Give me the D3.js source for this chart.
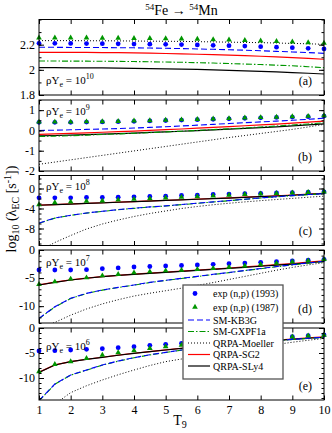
<!DOCTYPE html>
<html>
<head>
<meta charset="utf-8">
<script src="https://cdn.jsdelivr.net/npm/d3@7"></script>
<style>
  body { margin: 0; background: #fff; }
  text { font-family: "Liberation Serif", "Times New Roman", serif; }
</style>
</head>
<body>
<div id="chart"></div>
<script>
var svgWidth = 332;
var svgHeight = 433;
var xLeft = 39;
var xRight = 324;

// temperature grid (T9)
var temps = [1, 1.5, 2, 2.5, 3, 3.5, 4, 4.5, 5, 5.5, 6, 6.5, 7, 7.5, 8, 8.5, 9, 9.5, 10];
var xTicks = [1, 2, 3, 4, 5, 6, 7, 8, 9, 10];

// (a) rho Ye = 10^10
var exp1993A = [2.211, 2.211, 2.210, 2.209, 2.208, 2.207, 2.205, 2.204, 2.203, 2.201, 2.198, 2.195, 2.192, 2.189, 2.184, 2.180, 2.176, 2.171, 2.166];
var exp1987A = [2.255, 2.255, 2.255, 2.254, 2.253, 2.252, 2.251, 2.250, 2.248, 2.246, 2.244, 2.241, 2.238, 2.235, 2.231, 2.227, 2.222, 2.217, 2.212];
var kb3gA = [2.179, 2.179, 2.178, 2.178, 2.177, 2.176, 2.175, 2.173, 2.171, 2.169, 2.166, 2.163, 2.160, 2.156, 2.152, 2.147, 2.142, 2.137, 2.131];
var gxpf1aA = [2.070, 2.070, 2.069, 2.069, 2.068, 2.067, 2.066, 2.064, 2.062, 2.060, 2.057, 2.054, 2.050, 2.046, 2.042, 2.037, 2.032, 2.025, 2.017];
var moellerA = [2.232, 2.232, 2.232, 2.231, 2.231, 2.230, 2.229, 2.228, 2.227, 2.226, 2.224, 2.222, 2.220, 2.218, 2.216, 2.213, 2.210, 2.207, 2.203];
var sg2A = [2.139, 2.139, 2.138, 2.138, 2.137, 2.136, 2.134, 2.132, 2.130, 2.127, 2.124, 2.121, 2.117, 2.113, 2.108, 2.103, 2.097, 2.091, 2.084];
var sly4A = [2.017, 2.017, 2.016, 2.016, 2.015, 2.014, 2.012, 2.010, 2.008, 2.006, 2.003, 2.000, 1.996, 1.992, 1.988, 1.983, 1.978, 1.973, 1.967];

// (b) rho Ye = 10^9
var exp1993B = [0.40, 0.40, 0.40, 0.41, 0.42, 0.43, 0.45, 0.47, 0.49, 0.51, 0.53, 0.55, 0.57, 0.60, 0.62, 0.64, 0.66, 0.68, 0.71];
var exp1987B = [0.42, 0.42, 0.42, 0.43, 0.44, 0.45, 0.47, 0.49, 0.51, 0.53, 0.55, 0.57, 0.59, 0.62, 0.64, 0.66, 0.68, 0.70, 0.73];
var kb3gB = [0.00, 0.01, 0.03, 0.05, 0.07, 0.09, 0.12, 0.15, 0.18, 0.22, 0.26, 0.30, 0.34, 0.38, 0.42, 0.46, 0.50, 0.55, 0.60];
var gxpf1aB = [-0.30, -0.28, -0.26, -0.23, -0.20, -0.17, -0.14, -0.11, -0.07, -0.04, 0.00, 0.04, 0.08, 0.12, 0.17, 0.22, 0.27, 0.32, 0.38];
var moellerB = [-1.67, -1.56, -1.45, -1.34, -1.23, -1.12, -1.01, -0.90, -0.79, -0.68, -0.57, -0.46, -0.35, -0.25, -0.15, -0.05, 0.05, 0.17, 0.30];
var sg2B = [-0.19, -0.17, -0.15, -0.12, -0.09, -0.06, -0.03, 0.00, 0.04, 0.07, 0.11, 0.15, 0.19, 0.23, 0.27, 0.31, 0.36, 0.41, 0.46];
var sly4B = [-0.27, -0.25, -0.23, -0.21, -0.18, -0.16, -0.13, -0.10, -0.07, -0.04, -0.01, 0.03, 0.06, 0.10, 0.14, 0.18, 0.22, 0.27, 0.32];

// (c) rho Ye = 10^8
var exp1993C = [-1.87, -1.87, -1.87, -1.80, -1.80, -1.73, -1.67, -1.60, -1.53, -1.40, -1.33, -1.20, -1.12, -1.04, -0.97, -0.89, -0.81, -0.74, -0.66];
var exp1987C = [-3.21, -2.81, -2.68, -2.54, -2.47, -2.27, -2.14, -2.00, -1.87, -1.73, -1.60, -1.47, -1.30, -1.18, -1.06, -0.95, -0.85, -0.76, -0.68];
var kb3gC = [-6.91, -5.90, -5.36, -4.89, -4.56, -4.22, -3.95, -3.68, -3.48, -3.21, -2.94, -2.68, -2.42, -2.15, -1.88, -1.64, -1.42, -1.21, -1.02];
var gxpf1aC = [-6.95, -5.93, -5.38, -4.92, -4.58, -4.24, -3.97, -3.70, -3.50, -3.23, -2.96, -2.70, -2.44, -2.17, -1.90, -1.66, -1.44, -1.23, -1.04];
var moellerC = [-12.5, -10.8, -9.4, -8.1, -7.1, -6.3, -5.6, -5.0, -4.5, -4.0, -3.6, -3.25, -2.95, -2.68, -2.43, -2.2, -1.98, -1.75, -1.53];
var sg2C = [-3.33, -3.21, -3.09, -2.97, -2.85, -2.73, -2.61, -2.49, -2.37, -2.25, -2.12, -2.00, -1.87, -1.74, -1.60, -1.45, -1.30, -1.13, -0.95];
var sly4C = [-3.35, -3.23, -3.11, -2.99, -2.87, -2.75, -2.63, -2.51, -2.39, -2.27, -2.15, -2.03, -1.91, -1.78, -1.64, -1.50, -1.35, -1.18, -1.00];

// (d) rho Ye = 10^7
var exp1993D = [-3.56, -3.56, -3.56, -3.50, -3.32, -3.20, -3.03, -2.94, -2.85, -2.76, -2.67, -2.55, -2.43, -2.32, -2.20, -2.08, -1.96, -1.81, -1.66];
var exp1987D = [-6.11, -5.64, -5.16, -4.93, -4.57, -4.33, -4.04, -3.86, -3.68, -3.56, -3.44, -3.26, -3.05, -2.82, -2.55, -2.35, -2.12, -1.90, -1.68];
var kb3gD = [-12.17, -10.1, -8.6, -7.72, -7.12, -6.65, -6.23, -5.76, -5.40, -5.05, -4.69, -4.33, -4.00, -3.65, -3.30, -2.95, -2.62, -2.30, -2.00];
var gxpf1aD = [-12.22, -10.15, -8.64, -7.75, -7.15, -6.68, -6.26, -5.79, -5.43, -5.08, -4.72, -4.36, -4.03, -3.68, -3.33, -2.98, -2.65, -2.33, -2.03];
var moellerD = [-14.0, -12.9, -11.6, -10.5, -9.6, -8.85, -8.2, -7.7, -7.25, -6.8, -6.3, -5.8, -5.25, -4.7, -4.15, -3.6, -3.1, -2.65, -2.25];
var sg2D = [-6.21, -5.73, -5.32, -5.01, -4.73, -4.51, -4.31, -4.13, -3.95, -3.77, -3.58, -3.40, -3.21, -3.01, -2.81, -2.61, -2.40, -2.17, -1.93];
var sly4D = [-6.23, -5.75, -5.34, -5.03, -4.75, -4.53, -4.33, -4.15, -3.98, -3.80, -3.62, -3.45, -3.27, -3.08, -2.89, -2.70, -2.50, -2.28, -2.05];

// (e) rho Ye = 10^6
var exp1993E = [-4.60, -4.53, -4.40, -4.27, -4.13, -3.93, -3.73, -3.47, -3.27, -3.07, -2.87, -2.67, -2.47, -2.27, -2.07, -1.90, -1.73, -1.53, -1.40];
var exp1987E = [-8.73, -7.27, -6.73, -6.07, -5.40, -4.93, -4.53, -4.07, -3.73, -3.40, -3.10, -2.82, -2.58, -2.36, -2.16, -1.96, -1.76, -1.56, -1.40];
var kb3gE = [-14.5, -11.2, -9.4, -8.4, -7.4, -6.6, -5.93, -5.35, -4.87, -4.40, -3.95, -3.60, -3.30, -3.00, -2.75, -2.50, -2.27, -2.05, -1.85];
var gxpf1aE = [-14.6, -11.25, -9.44, -8.43, -7.43, -6.63, -5.96, -5.38, -4.90, -4.43, -3.98, -3.63, -3.33, -3.03, -2.78, -2.53, -2.30, -2.08, -1.88];
var moellerE = [-18.0, -15.2, -12.93, -11.55, -10.4, -9.35, -8.4, -7.5, -6.73, -6.2, -5.7, -5.2, -4.7, -4.2, -3.75, -3.3, -2.85, -2.45, -2.1];
var sg2E = [-8.85, -7.38, -6.71, -6.25, -5.85, -5.43, -5.05, -4.71, -4.38, -4.05, -3.75, -3.47, -3.19, -2.92, -2.67, -2.43, -2.20, -1.97, -1.75];
var sly4E = [-8.87, -7.40, -6.73, -6.27, -5.87, -5.45, -5.07, -4.73, -4.40, -4.07, -3.78, -3.50, -3.22, -2.96, -2.72, -2.49, -2.27, -2.05, -1.85];

// y tick labels per panel
var ticksA = [1.8, 2, 2.2];
var ticksB = [-2, -1, 0, 1];
var ticksC = [-8, -4, 0];
var ticksD = [-10, -5, 0];
var ticksE = [-10, -5, 0];

var densities = ["10", "9", "8", "7", "6"];
var panelLetters = ["(a)", "(b)", "(c)", "(d)", "(e)"];
var legendLabels = ["exp (n,p) (1993)", "exp (n,p) (1987)", "SM-KB3G", "SM-GXPF1a", "QRPA-Moeller", "QRPA-SG2", "QRPA-SLy4"];

var panels = [
  { top: 19.5, bottom: 95,  domain: [1.8, 2.4],    ticks: ticksA, minor: 0.1, labelY: 84,
    exp1993: exp1993A, exp1987: exp1987A, kb3g: kb3gA, gxpf1a: gxpf1aA, moeller: moellerA, sg2: sg2A, sly4: sly4A },
  { top: 100,  bottom: 171, domain: [-2, 1.5],     ticks: ticksB, minor: 0.5, labelY: 115,
    exp1993: exp1993B, exp1987: exp1987B, kb3g: kb3gB, gxpf1a: gxpf1aB, moeller: moellerB, sg2: sg2B, sly4: sly4B },
  { top: 175.5, bottom: 245.5, domain: [-11.4, 2.6], ticks: ticksC, minor: 1, labelY: 190,
    exp1993: exp1993C, exp1987: exp1987C, kb3g: kb3gC, gxpf1a: gxpf1aC, moeller: moellerC, sg2: sg2C, sly4: sly4C },
  { top: 250,  bottom: 323, domain: [-13, 0],      ticks: ticksD, minor: 1, labelY: 266,
    exp1993: exp1993D, exp1987: exp1987D, kb3g: kb3gD, gxpf1a: gxpf1aD, moeller: moellerD, sg2: sg2D, sly4: sly4D },
  { top: 328,  bottom: 400, domain: [-14.4, 0],    ticks: ticksE, minor: 1, labelY: 350,
    exp1993: exp1993E, exp1987: exp1987E, kb3g: kb3gE, gxpf1a: gxpf1aE, moeller: moellerE, sg2: sg2E, sly4: sly4E }
];

var blue = "#0000ff";
var green = "#009600";
var red = "#ff0000";

var svg = d3.select("#chart")
  .append("svg")
  .attr("width", svgWidth)
  .attr("height", svgHeight);

var xScale = d3.scaleLinear()
  .domain([1, 10])
  .range([xLeft, xRight]);

// title
var title = svg.append("text")
  .attr("x", (xLeft + xRight) / 2)
  .attr("y", 15)
  .attr("text-anchor", "middle")
  .style("font-size", "14px");
title.append("tspan").attr("dy", -5).style("font-size", "9px").text("54");
title.append("tspan").attr("dy", 5).text("Fe \u2192 ");
title.append("tspan").attr("dy", -5).style("font-size", "9px").text("54");
title.append("tspan").attr("dy", 5).text("Mn");

panels.forEach(function(p, i) {
  var yScale = d3.scaleLinear()
    .domain(p.domain)
    .range([p.bottom, p.top]);

  var g = svg.append("g");

  g.append("clipPath")
    .attr("id", "clip" + i)
    .append("rect")
    .attr("x", xLeft)
    .attr("y", p.top)
    .attr("width", xRight - xLeft)
    .attr("height", p.bottom - p.top);

  var line = d3.line()
    .x(function(d) { return xScale(d[0]); })
    .y(function(d) { return yScale(d[1]); });

  var curves = g.append("g").attr("clip-path", "url(#clip" + i + ")");

  // draw order: dotted, red, black, green dash-dot, blue dashed
  var curveStyles = [
    { data: p.moeller, color: "#000", dash: "1,2", width: 1 },
    { data: p.sg2, color: red, dash: null, width: 1.2 },
    { data: p.sly4, color: "#000", dash: null, width: 1.2 },
    { data: p.gxpf1a, color: green, dash: "6,2,1.5,2", width: 1.1 },
    { data: p.kb3g, color: blue, dash: "6,3", width: 1.1 }
  ];
  curveStyles.forEach(function(c) {
    curves.append("path")
      .datum(d3.zip(temps, c.data))
      .attr("d", line)
      .attr("fill", "none")
      .attr("stroke", c.color)
      .attr("stroke-width", c.width)
      .attr("stroke-dasharray", c.dash);
  });

  // experimental points
  g.selectAll("circle.exp93")
    .data(d3.zip(temps, p.exp1993))
    .enter()
    .append("circle")
    .attr("class", "exp93")
    .attr("cx", function(d) { return xScale(d[0]); })
    .attr("cy", function(d) { return yScale(d[1]); })
    .attr("r", 2.4)
    .attr("fill", blue);

  g.selectAll("path.exp87")
    .data(d3.zip(temps, p.exp1987))
    .enter()
    .append("path")
    .attr("class", "exp87")
    .attr("d", d3.symbol(d3.symbolTriangle, 14))
    .attr("transform", function(d) {
      return "translate(" + xScale(d[0]) + "," + yScale(d[1]) + ")";
    })
    .attr("fill", green);

  // frame
  g.append("rect")
    .attr("x", xLeft)
    .attr("y", p.top)
    .attr("width", xRight - xLeft)
    .attr("height", p.bottom - p.top)
    .attr("fill", "none")
    .attr("stroke", "#000")
    .attr("stroke-width", 1);

  // y axes (inward ticks)
  var minorTicks = d3.range(Math.ceil(p.domain[0] / p.minor) * p.minor, p.domain[1] + 1e-9, p.minor);
  var leftMajor = g.append("g")
    .attr("transform", "translate(" + xLeft + ",0)")
    .call(d3.axisLeft(yScale).tickValues(p.ticks).tickSize(-5).tickPadding(4)
      .tickFormat(function(d) { return String(d); }));
  leftMajor.select(".domain").remove();
  leftMajor.selectAll("text")
    .style("font-family", "'Liberation Serif', serif")
    .style("font-size", "12px");

  var leftMinor = g.append("g")
    .attr("transform", "translate(" + xLeft + ",0)")
    .call(d3.axisLeft(yScale).tickValues(minorTicks).tickSize(-2.5).tickFormat(""));
  leftMinor.select(".domain").remove();

  var rightMajor = g.append("g")
    .attr("transform", "translate(" + xRight + ",0)")
    .call(d3.axisRight(yScale).tickValues(p.ticks).tickSize(-5).tickFormat(""));
  rightMajor.select(".domain").remove();
  var rightMinor = g.append("g")
    .attr("transform", "translate(" + xRight + ",0)")
    .call(d3.axisRight(yScale).tickValues(minorTicks).tickSize(-2.5).tickFormat(""));
  rightMinor.select(".domain").remove();

  // x axes
  var topAxis = g.append("g")
    .attr("transform", "translate(0," + p.top + ")")
    .call(d3.axisTop(xScale).tickValues(xTicks).tickSize(-4.5).tickFormat(""));
  topAxis.select(".domain").remove();

  var bottomAxis = g.append("g")
    .attr("transform", "translate(0," + p.bottom + ")")
    .call(d3.axisBottom(xScale).tickValues(xTicks).tickSize(-4.5).tickPadding(5)
      .tickFormat(i === panels.length - 1 ? function(d) { return String(d); } : ""));
  bottomAxis.select(".domain").remove();
  bottomAxis.selectAll("text")
    .style("font-family", "'Liberation Serif', serif")
    .style("font-size", "12px");

  // density label
  var dens = g.append("text")
    .attr("x", 46)
    .attr("y", p.labelY)
    .style("font-size", "11px");
  dens.append("tspan").text("\u03c1Y");
  dens.append("tspan").attr("dy", 2.5).style("font-size", "8px").text("e");
  dens.append("tspan").attr("dy", -2.5).text(" = 10");
  dens.append("tspan").attr("dy", -5).style("font-size", "8px").text(densities[i]);

  // panel letter
  g.append("text")
    .attr("x", 312)
    .attr("y", p.bottom - 10.5)
    .attr("text-anchor", "end")
    .style("font-size", "12px")
    .text(panelLetters[i]);
});

// x label
var xLabel = svg.append("text")
  .attr("x", 180)
  .attr("y", 425)
  .attr("text-anchor", "middle")
  .style("font-size", "14px");
xLabel.append("tspan").text("T");
xLabel.append("tspan").attr("dy", 3).style("font-size", "10px").text("9");

// y label
var yLabel = svg.append("text")
  .attr("transform", "translate(16,209) rotate(-90)")
  .attr("text-anchor", "middle")
  .style("font-size", "14px");
yLabel.append("tspan").text("log");
yLabel.append("tspan").attr("dy", 3).style("font-size", "10px").text("10");
yLabel.append("tspan").attr("dy", -3).text(" (\u03bb");
yLabel.append("tspan").attr("dy", 3).style("font-size", "10px").text("EC");
yLabel.append("tspan").attr("dy", -3).text(" [s");
yLabel.append("tspan").attr("dy", -5).style("font-size", "10px").text("-1");
yLabel.append("tspan").attr("dy", 5).text("])");

// legend
var legend = svg.append("g");
legend.append("rect")
  .attr("x", 183)
  .attr("y", 285)
  .attr("width", 100)
  .attr("height", 94)
  .attr("fill", "#fff")
  .attr("stroke", "#555")
  .attr("stroke-width", 1.3);

var entryY = [293.5, 307, 320, 331.5, 343, 354.5, 366];
var entryStyle = [
  { kind: "circle", color: blue },
  { kind: "triangle", color: green },
  { kind: "line", color: blue, dash: "6,3" },
  { kind: "line", color: green, dash: "6,2,1.5,2" },
  { kind: "line", color: "#000", dash: "1,2" },
  { kind: "line", color: red, dash: null },
  { kind: "line", color: "#000", dash: null }
];
legendLabels.forEach(function(label, k) {
  var s = entryStyle[k];
  var ey = entryY[k];
  if (s.kind === "circle") {
    legend.append("circle").attr("cx", 195).attr("cy", ey).attr("r", 2.4).attr("fill", s.color);
  } else if (s.kind === "triangle") {
    legend.append("path")
      .attr("d", d3.symbol(d3.symbolTriangle, 14))
      .attr("transform", "translate(195," + ey + ")")
      .attr("fill", s.color);
  } else {
    legend.append("line")
      .attr("x1", 188).attr("x2", 210)
      .attr("y1", ey).attr("y2", ey)
      .attr("stroke", s.color)
      .attr("stroke-width", 1.2)
      .attr("stroke-dasharray", s.dash);
  }
  legend.append("text")
    .attr("x", 213)
    .attr("y", ey + 3.5)
    .style("font-size", "10px")
    .text(label);
});
</script>
</body>
</html>
